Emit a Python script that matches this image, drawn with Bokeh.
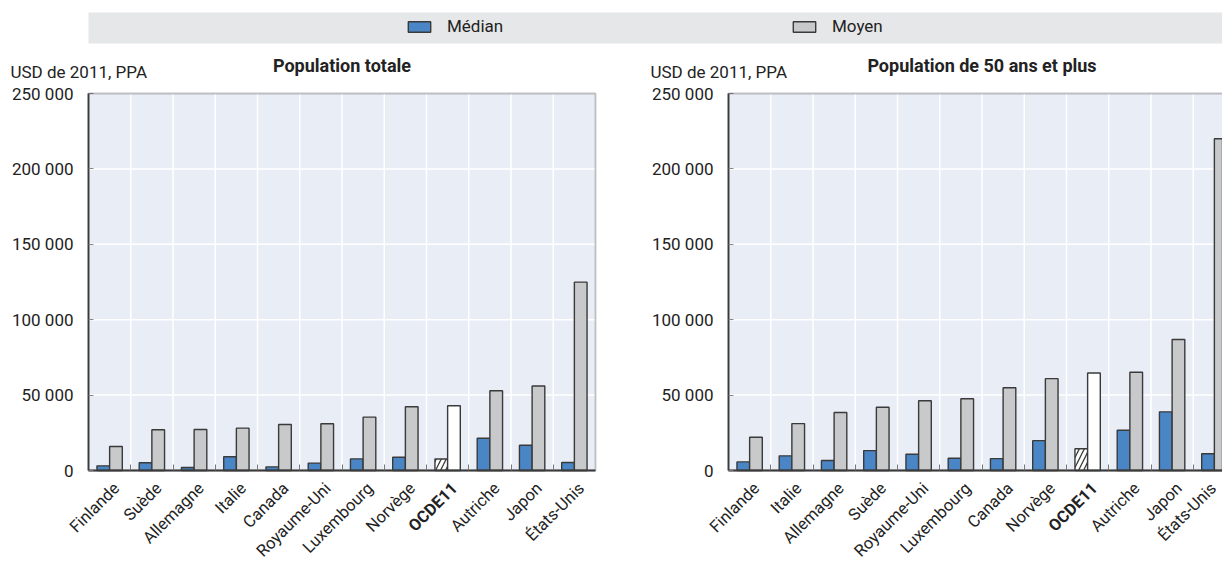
import numpy as np
from bokeh.plotting import figure
from bokeh.models import (ColumnDataSource, Range1d, FixedTicker, LinearAxis, BoxAnnotation,
                          Legend, LegendItem)
from bokeh.layouts import column, row
from bokeh.embed import file_html
from bokeh.resources import INLINE
from bokeh.core.properties import value

# ---------------- data ----------------
countries_total = ["Finlande", "Suède", "Allemagne", "Italie", "Canada", "Royaume-Uni",
                   "Luxembourg", "Norvège", "OCDE11", "Autriche", "Japon", "États-Unis"]
median_total = [3100, 5100, 2000, 9100, 2400, 4900, 7700, 8800, 7600, 21400, 16700, 5300]
mean_total = [15900, 27000, 27200, 28100, 30500, 31000, 35400, 42300, 42900, 52900, 56000, 124900]

countries_50 = ["Finlande", "Italie", "Allemagne", "Suède", "Royaume-Uni", "Luxembourg",
                "Canada", "Norvège", "OCDE11", "Autriche", "Japon", "États-Unis"]
median_50 = [5700, 9700, 6600, 13200, 10800, 8100, 7900, 19800, 14400, 26700, 38900, 11100]
mean_50 = [22000, 31100, 38500, 41900, 46300, 47600, 54900, 60900, 64700, 65200, 86900, 220000]

y_ticks = [0, 50000, 100000, 150000, 200000, 250000]
y_tick_labels = ["0", "50 000", "100 000", "150 000", "200 000", "250 000"]
unit_label = "USD de 2011, PPA"
panel_titles = ["Population totale", "Population de 50 ans et plus"]
series_names = ["Médian", "Moyen"]
oecd_name = "OCDE11"

# ---------------- style / layout ----------------
FONT = "Roboto"
BLUE = "#4A86C6"
GREY = "#C8C9CB"
WHITE = "#FFFFFF"
DARK = "#3A3A3A"
TXT = "#222222"
BG = "#E9EDF6"
BAND = "#E6E7E8"
BAR_W = 0.3
FS = "17px"
FS_CAT = "16.5px"

CAT_PX = 42.25          # pixels per category
PLOT_H = 377            # pixels from 0 to 250 000
TOP_PX = 49             # space above plot area in panel figure
PANEL_H = 519
BOT_PX = PANEL_H - TOP_PX - PLOT_H
LEFT_W, LEFT_PAD = 648, 88
RIGHT_W, RIGHT_PAD = 574, 80
U = (y_ticks[-1] - y_ticks[0]) / PLOT_H   # data units per pixel (y)
LABEL_DX = 7            # label shift to the right (px)
LABEL_EDGE = 9          # room needed right of a label anchor (px)


def panel(cats, med, mean, title, fig_w, pad):
    n = len(cats)
    idx = np.arange(n)
    is_oecd = [c == oecd_name for c in cats]
    anchor_px = pad + (idx + 0.5) * CAT_PX
    label_dx = np.minimum(LABEL_DX, fig_w - LABEL_EDGE - anchor_px)
    src = ColumnDataSource(dict(
        x=idx, x_med=idx - BAR_W / 2, x_mean=idx + BAR_W / 2,
        med=med, mean=mean,
        med_fill=[WHITE if o else BLUE for o in is_oecd],
        med_hatch=["/" if o else " " for o in is_oecd],
        mean_fill=[WHITE if o else GREY for o in is_oecd],
        label=cats, label_dx=label_dx,
        style=["bold" if o else "normal" for o in is_oecd],
    ))
    x0 = -0.5
    x1 = n - 0.5
    y0, y1 = y_ticks[0], y_ticks[-1]
    p = figure(width=fig_w, height=PANEL_H,
               x_range=Range1d(x0 - pad / CAT_PX, x0 + (fig_w - pad) / CAT_PX),
               y_range=Range1d(y0 - BOT_PX * U, y1 + TOP_PX * U),
               x_axis_type=None, y_axis_type=None,
               output_backend="svg", toolbar_location=None,
               min_border=0, background_fill_color=WHITE, border_fill_color=WHITE,
               outline_line_color=None)
    # plot-area background
    p.add_layout(BoxAnnotation(left=x0, right=x1, bottom=y0, top=y1,
                               fill_color=BG, fill_alpha=1, line_color=None, level="underlay"))
    # grid lines
    bounds = list(idx[:-1] + 0.5)
    p.segment(x0=bounds, x1=bounds, y0=[y0] * len(bounds), y1=[y1] * len(bounds),
              line_color=WHITE, line_width=1.5)
    inner = y_ticks[1:-1]
    p.segment(x0=[x0] * len(inner), x1=[x1] * len(inner), y0=inner, y1=inner,
              line_color=WHITE, line_width=1.5)
    # bars
    p.vbar(x="x_med", top="med", width=BAR_W, source=src,
           fill_color="med_fill", line_color=DARK, line_width=1.4,
           hatch_pattern="med_hatch", hatch_color=DARK, hatch_scale=10, hatch_weight=1.3)
    p.vbar(x="x_mean", top="mean", width=BAR_W, source=src,
           fill_color="mean_fill", line_color=DARK, line_width=1.4)

    # axes placed at the plot-area edges
    xa = LinearAxis(fixed_location=y0, bounds=(x0, x1),
                    ticker=FixedTicker(ticks=[], minor_ticks=bounds))
    xa.major_label_text_font_size = "0px"
    xa.major_tick_in = 0
    xa.major_tick_out = 0
    xa.minor_tick_in = 6
    xa.minor_tick_out = 0
    xa.minor_tick_line_color = "#777777"
    xa.axis_line_color = DARK
    xa.axis_line_width = 1.8
    p.add_layout(xa, "below")

    ya = LinearAxis(fixed_location=x0, bounds=(y0, y1), ticker=FixedTicker(ticks=y_ticks))
    ya.major_label_overrides = {t: l for t, l in zip(y_ticks, y_tick_labels)}
    ya.major_label_text_font = FONT
    ya.major_label_text_font_size = FS
    ya.major_label_text_color = TXT
    ya.major_label_standoff = 15
    ya.major_tick_in = 5
    ya.major_tick_out = 0
    ya.major_tick_line_color = "#888888"
    ya.minor_tick_line_color = None
    ya.axis_line_color = DARK
    ya.axis_line_width = 1.8
    p.add_layout(ya, "left")

    # frame border
    p.add_layout(BoxAnnotation(left=x0, right=x1, bottom=y0, top=y1,
                               fill_alpha=0, line_color=DARK, line_width=1.8, level="overlay"))

    # category labels
    p.text(x="x", y=y0 - 15 * U, x_offset="label_dx", text="label", source=src, angle=np.pi / 4,
           text_align="right", text_baseline="middle",
           text_font=value(FONT), text_font_size=FS_CAT, text_color=TXT,
           text_font_style="style")
    # unit label and title
    p.text(x=[x0 - 78 / CAT_PX], y=[y1 + 12 * U], text=[unit_label],
           text_align="left", text_baseline="bottom",
           text_font=value(FONT), text_font_size="17px", text_color=TXT)
    p.text(x=[(n - 1) / 2], y=[y1 + 18 * U], text=[title],
           text_align="center", text_baseline="bottom",
           text_font=value(FONT), text_font_size="18px", text_font_style="bold",
           text_color=TXT)
    return p


p1 = panel(countries_total, median_total, mean_total, panel_titles[0], LEFT_W, LEFT_PAD)
p2 = panel(countries_50, median_50, mean_50, panel_titles[1], RIGHT_W, RIGHT_PAD)

# ---------------- legend band ----------------
pl = figure(width=LEFT_W + RIGHT_W, height=44, x_range=Range1d(0, 1), y_range=Range1d(0, 1),
            output_backend="svg", toolbar_location=None,
            min_border_left=LEFT_PAD, min_border_right=0, min_border_top=12, min_border_bottom=1,
            background_fill_color=BAND, border_fill_color=WHITE, outline_line_color=None)
pl.axis.visible = False
pl.grid.visible = False
r1 = pl.vbar(x=[5], top=[0], width=0.1, fill_color=BLUE, line_color=DARK, line_width=1.4)
r2 = pl.vbar(x=[5], top=[0], width=0.1, fill_color=GREY, line_color=DARK, line_width=1.4)
leg = Legend(items=[LegendItem(label=series_names[0], renderers=[r1]),
                    LegendItem(label=series_names[1], renderers=[r2])],
             orientation="horizontal", location=(405 - LEFT_PAD, 7),
             glyph_width=28, glyph_height=13, label_height=15, label_width=60,
             label_standoff=14, spacing=283, padding=0, margin=0,
             border_line_color=None, background_fill_alpha=0,
             label_text_font=FONT, label_text_font_size=FS, label_text_color=TXT)
pl.add_layout(leg)

layout = column(pl, row(p1, p2, spacing=0), spacing=0)
open("out.html", "w").write(file_html(layout, INLINE))
